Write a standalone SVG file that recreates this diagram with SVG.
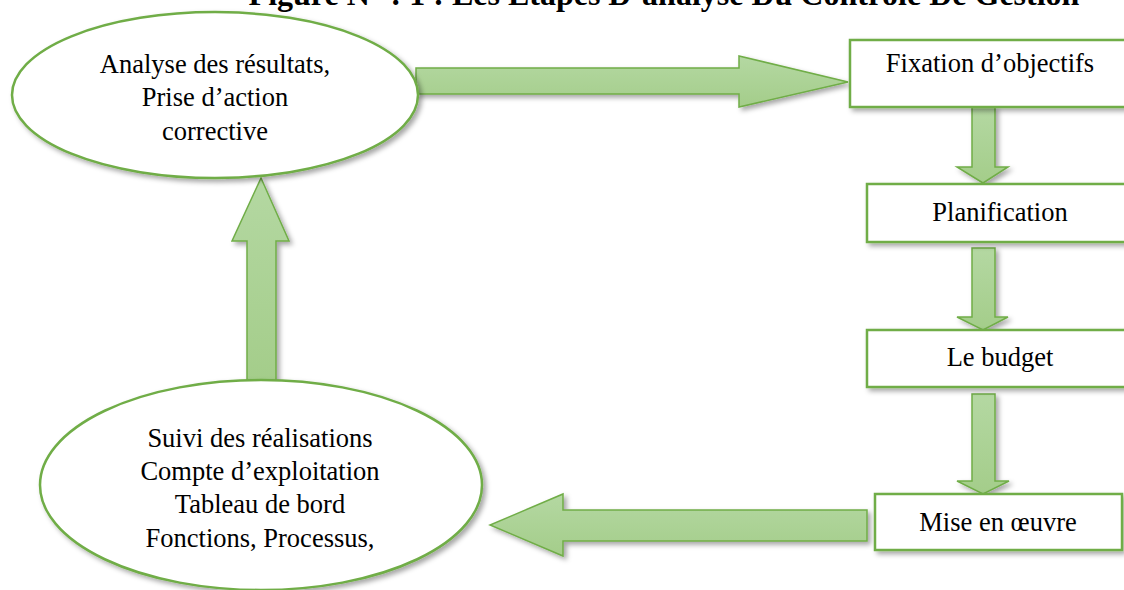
<svg xmlns="http://www.w3.org/2000/svg" width="1124" height="590" viewBox="0 0 1124 590">
  <style>
    .shape { fill: #ffffff; stroke: #70ad47; stroke-width: 2.5; filter: url(#shadow); }
    .arrow { fill: url(#arrowFill); stroke: #70ad47; stroke-width: 1.5; stroke-linejoin: miter; filter: url(#shadow); }
    .label { font-family: "Liberation Serif", "Times New Roman", serif; font-size: 26.5px; fill: #000000; text-anchor: middle; }
    .title { font-family: "Liberation Serif", "Times New Roman", serif; font-size: 32px; font-weight: bold; fill: #000000; text-anchor: middle; }
  </style>
  <defs>
    <linearGradient id="arrowFill" x1="0" y1="0" x2="0" y2="1">
      <stop offset="0" stop-color="#b4d8a2"/>
      <stop offset="1" stop-color="#a4cd8a"/>
    </linearGradient>
    <filter id="shadow" x="-10%" y="-10%" width="130%" height="130%">
      <feDropShadow dx="3" dy="3" stdDeviation="2.5" flood-color="#000000" flood-opacity="0.35"/>
    </filter>
  </defs>

  <rect width="1124" height="590" fill="#ffffff"/>

  <!-- heading, partly above the top edge -->
  <text class="title" x="664" y="5">Figure N° : 1 : Les Etapes D’analyse Du Contrôle De Gestion</text>

  <!-- connectors: block arrows -->
  <g id="connectors">
    <!-- analyse -> fixation -->
    <polygon class="arrow" points="416,68 739,68 739,56 848,82 739,107 739,94 416,94"/>
    <!-- fixation -> planification -->
    <polygon class="arrow" points="972,107 995,107 995,167 1008,167 983,183 957,167 972,167"/>
    <!-- planification -> budget -->
    <polygon class="arrow" points="972,248 995,248 995,317 1008,317 983,330 957,317 972,317"/>
    <!-- budget -> mise en oeuvre -->
    <polygon class="arrow" points="972,394 995,394 995,481 1009,481 983,494 957,481 972,481"/>
    <!-- mise en oeuvre -> suivi -->
    <polygon class="arrow" points="867,510 563,510 563,494 490,525 563,556 563,541 867,541"/>
    <!-- suivi -> analyse -->
    <polygon class="arrow" points="247,382 247,241 232,241 261,178 289,241 276,241 276,382"/>
  </g>

  <g id="node-analyse">
    <ellipse class="shape" cx="215" cy="95" rx="203" ry="83"/>
    <text class="label" x="215" y="73">Analyse des résultats,</text>
    <text class="label" x="215" y="106">Prise d’action</text>
    <text class="label" x="215" y="140">corrective</text>
  </g>

  <g id="node-fixation">
    <rect class="shape" x="850" y="40" width="285" height="67"/>
    <text class="label" x="990" y="72">Fixation d’objectifs</text>
  </g>

  <g id="node-planification">
    <rect class="shape" x="867" y="184" width="270" height="58"/>
    <text class="label" x="1000" y="221">Planification</text>
  </g>

  <g id="node-budget">
    <rect class="shape" x="867" y="330" width="270" height="57"/>
    <text class="label" x="1000" y="366">Le budget</text>
  </g>

  <g id="node-mise">
    <rect class="shape" x="875" y="494" width="247" height="56"/>
    <text class="label" x="998" y="531">Mise en œuvre</text>
  </g>

  <g id="node-suivi">
    <ellipse class="shape" cx="261" cy="485" rx="221" ry="105"/>
    <text class="label" x="260" y="447">Suivi des réalisations</text>
    <text class="label" x="260" y="480">Compte d’exploitation</text>
    <text class="label" x="260" y="513">Tableau de bord</text>
    <text class="label" x="260" y="547">Fonctions, Processus,</text>
  </g>
</svg>
